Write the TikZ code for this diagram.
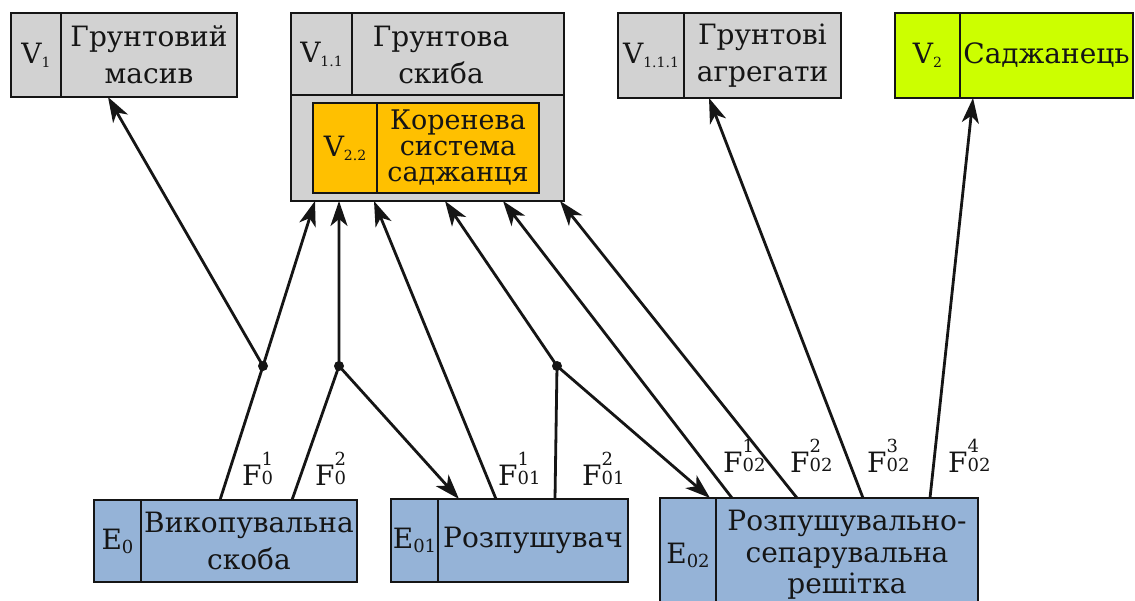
\documentclass[tikz,border=0pt]{standalone}
\usepackage{fontspec}
\setmainfont{DejaVu Serif}
\usetikzlibrary{arrows.meta}

\definecolor{soilgrey}{HTML}{D2D2D2}
\definecolor{rootgold}{HTML}{FFC000}
\definecolor{seedlime}{HTML}{CCFF00}
\definecolor{toolblue}{HTML}{95B3D7}
\definecolor{ink}{HTML}{151515}

% index labels of the blocks: V with a small subscript, E with a larger one
\newcommand\Vsub[1]{V\raisebox{-4pt}{\fontsize{14}{14}\selectfont #1}}
\newcommand\Esub[1]{E\raisebox{-4pt}{\fontsize{18}{18}\selectfont #1}}
% force label: F with stacked superscript and subscript
\newcommand\force[2]{F\rlap{\raisebox{20pt}{\fontsize{18}{18}\selectfont #1}}\raisebox{1pt}{\fontsize{18}{18}\selectfont #2}}

\begin{document}
\begin{tikzpicture}[x=1pt,y=-1pt,
  cell/.style={draw=ink, line width=2.4pt, inner sep=0pt, outer sep=0pt,
    anchor=north west, text=ink, align=center,
    font=\fontsize{28}{37}\selectfont},
  soil/.style={cell, fill=soilgrey},
  root/.style={cell, fill=rootgold},
  seed/.style={cell, fill=seedlime},
  tool/.style={cell, fill=toolblue},
  txt/.style={inner sep=0pt, text=ink, align=center,
    font=\fontsize{28}{37}\selectfont},
  flow/.style={draw=ink, line width=2.8pt,
    -{Stealth[length=25pt,width=17pt,inset=7pt]}},
  knot/.style={circle, fill=ink, inner sep=0pt, minimum size=10pt},
  flabel/.style={anchor=base west, inner sep=0pt, text=ink,
    font=\fontsize{28}{37}\selectfont},
]
\clip (0,0) rectangle (1135,601);
\fill[white] (0,0) rectangle (1135,601);

% ---- soil and seedling blocks (top row)
\node[soil, minimum width=50pt, minimum height=84pt] (v1l) at (11,13) {\Vsub{1}};
\node[soil, minimum width=176pt, minimum height=84pt] (v1) at (61,13) {Грунтовий\\масив};

\node[soil, minimum width=273pt, minimum height=188pt] (v11) at (291,13) {};
\node[soil, minimum width=61pt, minimum height=82pt] (v11l) at (291,13) {\Vsub{1.1}};
\node[soil, minimum width=212pt, minimum height=82pt] (v11r) at (352,13) {};
\node[txt] (v11t) at (441,55) {Грунтова\\скиба};
\node[root, minimum width=64pt, minimum height=90pt] (v22l) at (313,103) {\Vsub{2.2}};
\node[root, minimum width=162pt, minimum height=90pt,
  font=\fontsize{27}{26}\selectfont] (v22) at (377,103) {Коренева\\система\\саджанця};

\node[soil, minimum width=66pt, minimum height=85pt] (v111l) at (618,13) {\Vsub{1.1.1}};
\node[soil, minimum width=157pt, minimum height=85pt] (v111) at (684,13) {Грунтові\\агрегати};

\node[seed, minimum width=65pt, minimum height=85pt] (v2l) at (895,13) {\Vsub{2}};
\node[seed, minimum width=173pt, minimum height=85pt] (v2) at (960,13) {Саджанець};

% ---- working elements (bottom row)
\node[tool, minimum width=47pt, minimum height=82pt] (e0l) at (94,500) {\Esub{0}};
\node[tool, minimum width=216pt, minimum height=82pt] (e0) at (141,500) {Викопувальна\\скоба};

\node[tool, minimum width=47pt, minimum height=83pt] (e01l) at (391,499) {\Esub{01}};
\node[tool, minimum width=190pt, minimum height=83pt] (e01) at (438,499) {Розпушувач};

\node[tool, minimum width=56pt, minimum height=114pt] (e02l) at (660,498) {\Esub{02}};
\node[tool, minimum width=262pt, minimum height=114pt,
  font=\fontsize{28}{31.5}\selectfont] (e02) at (716,498) {Розпушувально-\\сепарувальна\\решітка};

% ---- branching points
\node[knot] (j1) at (263,366) {};
\node[knot] (j2) at (339,366) {};
\node[knot] (j3) at (557,366) {};

% ---- force flows
\draw[flow] ([xshift=79pt]e0.north west) -- (j1.center) -- ([xshift=24pt]v11.south west);
\draw[flow] (j1.center) -- ([xshift=47pt]v1.south west);
\draw[flow] ([xshift=151pt]e0.north west) -- (j2.center) -- ([xshift=48pt]v11.south west);
\draw[flow] (j2.center) -- ([xshift=21pt]e01.north west);
\draw[flow] ([xshift=58pt]e01.north west) -- ([xshift=83pt]v11.south west);
\draw[flow] ([xshift=117pt]e01.north west) -- (j3.center) -- ([xshift=154pt]v11.south west);
\draw[flow] (j3.center) -- ([xshift=50pt]e02l.north west);
\draw[flow] ([xshift=16pt]e02.north west) -- ([xshift=212pt]v11.south west);
\draw[flow] ([xshift=81pt]e02.north west) -- ([xshift=269pt]v11.south west);
\draw[flow] ([xshift=147pt]e02.north west) -- ([xshift=25pt]v111.south west);
\draw[flow] ([xshift=214pt]e02.north west) -- ([xshift=13pt]v2.south west);

% ---- force labels
\node[flabel] (f0a) at (242,485) {\force{1}{0}};
\node[flabel] (f0b) at (315,485) {\force{2}{0}};
\node[flabel] (f01a) at (498,485) {\force{1}{01}};
\node[flabel] (f01b) at (582,485) {\force{2}{01}};
\node[flabel] (f02a) at (723,472) {\force{1}{02}};
\node[flabel] (f02b) at (790,472) {\force{2}{02}};
\node[flabel] (f02c) at (867,472) {\force{3}{02}};
\node[flabel] (f02d) at (948,472) {\force{4}{02}};
\end{tikzpicture}
\end{document}
